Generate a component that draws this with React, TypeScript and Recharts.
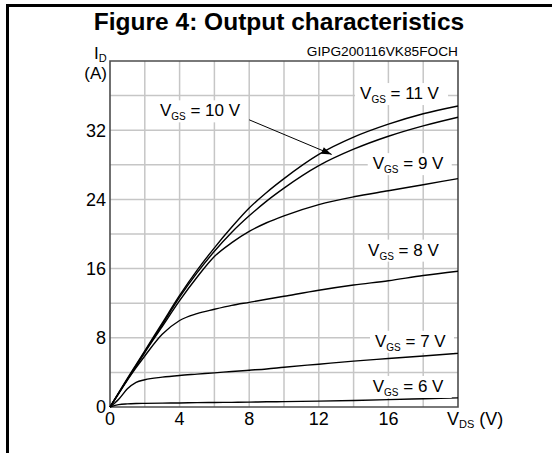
import React, { useEffect, useState } from "react";
import { Line, LineChart, ReferenceDot, XAxis, YAxis } from "recharts";

// ---------------------------------------------------------------------------
// Data
// ---------------------------------------------------------------------------

const vds = [0, 0.5, 1, 1.5, 2, 3, 4, 5, 6, 7, 8, 9, 10, 12, 14, 16, 18, 20];

const id11 = [0, 1.65, 3.3, 4.9, 6.5, 9.7, 12.9, 15.8, 18.4, 20.8, 23.0, 24.8, 26.4, 29.2, 31.2, 32.7, 33.9, 34.8];
const id10 = [0, 1.6, 3.2, 4.8, 6.4, 9.5, 12.7, 15.5, 18.0, 20.2, 22.1, 23.8, 25.3, 27.9, 29.8, 31.3, 32.5, 33.5];
const id9 = [0, 1.6, 3.2, 4.7, 6.3, 9.3, 12.3, 15.0, 17.4, 19.0, 20.3, 21.3, 22.1, 23.4, 24.3, 25.0, 25.7, 26.4];
const id8 = [0, 1.55, 3.1, 4.55, 5.9, 8.4, 10.0, 10.8, 11.3, 11.75, 12.1, 12.45, 12.8, 13.5, 14.1, 14.6, 15.2, 15.7];
const id7 = [0, 0.9, 2.1, 2.85, 3.15, 3.45, 3.65, 3.8, 3.95, 4.1, 4.25, 4.4, 4.6, 4.95, 5.3, 5.6, 5.9, 6.2];
const id6 = [0, 0.28, 0.36, 0.4, 0.42, 0.45, 0.47, 0.5, 0.52, 0.54, 0.56, 0.6, 0.62, 0.68, 0.76, 0.85, 0.95, 1.05];

const seriesKeys = ["vgs11", "vgs10", "vgs9", "vgs8", "vgs7", "vgs6"];
const seriesValues = [id11, id10, id9, id8, id7, id6];

// curve labels: gate voltage, left edge (V) and baseline (A)
const labelVgs = [11, 10, 9, 8, 7, 6];
const labelV = [14.37, 2.87, 15.1, 14.83, 15.23, 15.1];
const labelI = [35.6, 33.6, 27.5, 17.5, 6.96, 1.74];

// arrow from the 10 V label to its curve
const arrowV = [8.0, 12.74];
const arrowI = [33.2, 29.2];

const xTicks = [0, 2, 4, 6, 8, 10, 12, 14, 16, 18, 20];
const xLabels = [0, 4, 8, 12, 16];
const yTicks = [0, 4, 8, 12, 16, 20, 24, 28, 32, 36, 40];
const yLabels = [0, 8, 16, 24, 32];

const X_MAX = 20;
const Y_MAX = 40;

const chartData = vds.map((v, idx) => {
  const row: Record<string, number> = { v };
  seriesKeys.forEach((k, s) => {
    row[k] = seriesValues[s][idx];
  });
  return row;
});

const arrowData = arrowV.map((v, idx) => ({ v, i: arrowI[idx] }));

// grid and plot border as two-point series, so they go through the same scales
const gridX = xTicks.slice(1, -1).map((v) => [
  { v, i: 0 },
  { v, i: Y_MAX },
]);
const gridY = yTicks.slice(1, -1).map((i) => [
  { v: 0, i },
  { v: X_MAX, i },
]);
const frameData = [
  { v: 0, i: 0 },
  { v: 0, i: Y_MAX },
  { v: X_MAX, i: Y_MAX },
  { v: X_MAX, i: 0 },
  { v: 0, i: 0 },
];

// ---------------------------------------------------------------------------
// Styling
// ---------------------------------------------------------------------------

const FONT = "'Liberation Sans', Arial, Helvetica, sans-serif";
const W = 553;
const H = 453;
const GRID = "#c6c6c6";
const tickStyle = { fontSize: 18, fill: "#000", fontFamily: FONT };

function VgsLabel({ cx, cy, vgs }: { cx?: number; cy?: number; vgs: number }) {
  if (cx == null || cy == null) return <g />;
  const w = vgs >= 10 ? 93 : 84;
  return (
    <g>
      <rect x={cx - 5} y={cy - 16} width={w} height={22} fill="#fff" />
      <text x={cx} y={cy} fontSize={17} fontFamily={FONT} fill="#000">
        <tspan>V</tspan>
        <tspan dy={4} fontSize={10}>GS</tspan>
        <tspan dy={-4}>{` = ${vgs} V`}</tspan>
      </text>
    </g>
  );
}

function ArrowHead({ cx, cy }: { cx?: number; cy?: number }) {
  if (cx == null || cy == null) return <g />;
  return (
    <polygon
      points="0,0 -10,-3.5 -10,3.5"
      fill="#000"
      transform={`translate(${cx},${cy}) rotate(22.6)`}
    />
  );
}

const textBase: React.CSSProperties = {
  position: "absolute",
  fontFamily: FONT,
  lineHeight: 1,
  color: "#000",
  whiteSpace: "nowrap",
};

export default function App() {
  // one extra render after mount so the series with their own data get drawn
  const [, setReady] = useState(false);
  useEffect(() => {
    const t = setTimeout(() => setReady(true), 200);
    return () => clearTimeout(t);
  }, []);

  return (
    <div
      style={{
        position: "absolute",
        left: 0,
        top: 0,
        width: W,
        height: H,
        background: "#fff",
        overflow: "hidden",
      }}
    >
      <LineChart
        width={W}
        height={H}
        data={chartData}
        margin={{ top: 61, right: 95, left: 70, bottom: 16 }}
        style={{ position: "absolute", left: 0, top: 0 }}
      >
        <XAxis
          dataKey="v"
          type="number"
          domain={[0, X_MAX]}
          ticks={xTicks}
          height={30}
          tickSize={0}
          tickMargin={5}
          axisLine={false}
          tickLine={false}
          tick={tickStyle}
          tickFormatter={(v: number) => (xLabels.includes(v) ? String(v) : "")}
        />
        <YAxis
          type="number"
          domain={[0, Y_MAX]}
          ticks={yTicks}
          width={40}
          tickSize={0}
          tickMargin={4}
          axisLine={false}
          tickLine={false}
          tick={tickStyle}
          tickFormatter={(v: number) => (yLabels.includes(v) ? String(v) : "")}
        />

        {/* grid */}
        {gridX.map((d, k) => (
          <Line
            key={`gridx-${k}`}
            data={d}
            dataKey="i"
            type="linear"
            stroke={GRID}
            strokeWidth={1.5}
            dot={false}
            activeDot={false}
            isAnimationActive={false}
          />
        ))}
        {gridY.map((d, k) => (
          <Line
            key={`gridy-${k}`}
            data={d}
            dataKey="i"
            type="linear"
            stroke={GRID}
            strokeWidth={1.5}
            dot={false}
            activeDot={false}
            isAnimationActive={false}
          />
        ))}

        {labelVgs.map((vgs, k) => (
          <ReferenceDot
            key={`lbl-${vgs}`}
            x={labelV[k]}
            y={labelI[k]}
            r={0}
            ifOverflow="visible"
            shape={(p: any) => <VgsLabel cx={p.cx} cy={p.cy} vgs={vgs} />}
          />
        ))}

        <Line
          data={frameData}
          dataKey="i"
          type="linear"
          stroke="#4d4d4d"
          strokeWidth={1.6}
          dot={false}
          activeDot={false}
          isAnimationActive={false}
        />

        {seriesKeys.map((k) => (
          <Line
            key={k}
            type="monotone"
            dataKey={k}
            stroke="#000"
            strokeWidth={1.4}
            dot={false}
            activeDot={false}
            isAnimationActive={false}
          />
        ))}

        <Line
          data={arrowData}
          dataKey="i"
          type="linear"
          stroke="#000"
          strokeWidth={1}
          dot={false}
          activeDot={false}
          isAnimationActive={false}
        />
        <ReferenceDot
          x={arrowV[1]}
          y={arrowI[1]}
          r={0}
          ifOverflow="visible"
          shape={(p: any) => <ArrowHead cx={p.cx} cy={p.cy} />}
        />
      </LineChart>

      {/* outer frame */}
      <div style={{ position: "absolute", left: 6, top: 4, width: 546, height: 3, background: "#000" }} />
      <div style={{ position: "absolute", left: 6, top: 4, width: 3, height: H - 4, background: "#000" }} />

      {/* static texts */}
      <div style={{ ...textBase, left: 5, top: 10, width: 548, textAlign: "center", fontSize: 24.5, fontWeight: "bold" }}>
        Figure 4: Output characteristics
      </div>
      <div style={{ ...textBase, right: 95, top: 45, fontSize: 13.7 }}>GIPG200116VK85FOCH</div>
      <div style={{ ...textBase, left: 94, top: 45, fontSize: 17 }}>
        I<span style={{ fontSize: 11, position: "relative", top: 3 }}>D</span>
      </div>
      <div style={{ ...textBase, right: 553 - 107, top: 65, fontSize: 17 }}>(A)</div>
      <div style={{ ...textBase, left: 447, top: 410, fontSize: 18 }}>
        V<span style={{ fontSize: 11, position: "relative", top: 3 }}>DS</span> (V)
      </div>
    </div>
  );
}
